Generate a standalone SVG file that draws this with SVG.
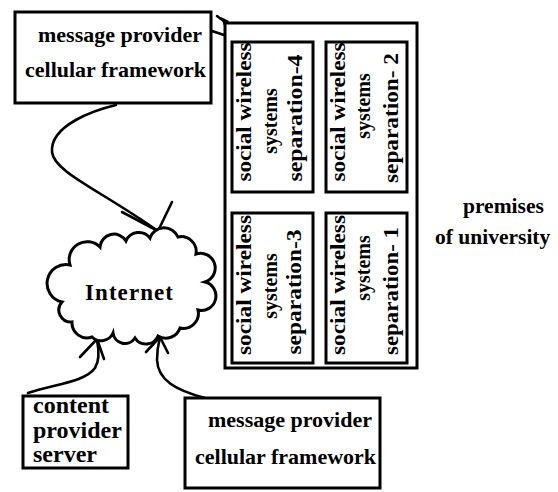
<svg xmlns="http://www.w3.org/2000/svg" width="558" height="492" viewBox="0 0 558 492">
<style>
.box{fill:#fff;stroke:#000;stroke-width:3}
.ln{fill:none;stroke:#000;stroke-width:2.6;stroke-linecap:round;stroke-linejoin:round}
.t{font-family:"Liberation Serif","Times New Roman",serif;font-weight:bold;fill:#000;font-size:22px}
.r{text-anchor:middle;font-size:22px}
.s{text-anchor:middle;font-size:20px}
</style>
<rect width="558" height="492" fill="#fff"/>
<g id="connectors">
  <path class="ln" d="M116,105 C95,110 50,125 52,152 C54,172 100,190 158,231"/>
  <polyline class="ln" points="122,212 158,231 172,202"/>
  <path class="ln" d="M28,393 C55,384 85,382 95,368 C100,360 99,350 97,340"/>
  <polyline class="ln" points="80,357 97,339 104,359"/>
  <path class="ln" d="M205,398 C175,390 158,380 157,360 C157,350 158,345 160,337"/>
  <polyline class="ln" points="146,352 160,337 168,353"/>
  <line class="ln" x1="212" y1="31" x2="245" y2="42"/>
  <line class="ln" x1="217" y1="16" x2="225" y2="22"/>
  <polygon points="221,17 229,21 224,26" fill="#000"/>
</g>
<g id="premises">
  <rect class="box" x="225" y="23" width="192" height="345"/>
  <text class="t" x="463" y="213" style="font-size:21.5px">premises</text>
  <text class="t" x="435" y="244" style="font-size:21.5px">of university</text>
</g>
<g id="sep4">
  <rect class="box" x="232" y="42" width="81" height="150"/>
  <text class="t r" transform="translate(251,112) rotate(-90)" textLength="139" lengthAdjust="spacingAndGlyphs">social wireless</text>
  <text class="t s" transform="translate(277,121) rotate(-90)">systems</text>
  <text class="t r" transform="translate(302,118) rotate(-90)" textLength="127" lengthAdjust="spacingAndGlyphs">separation-4</text>
</g>
<g id="sep2">
  <rect class="box" x="326" y="42" width="81" height="150"/>
  <text class="t r" transform="translate(345,112) rotate(-90)" textLength="139" lengthAdjust="spacingAndGlyphs">social wireless</text>
  <text class="t s" transform="translate(370,106) rotate(-90)">systems</text>
  <text class="t r" transform="translate(398,118) rotate(-90)" textLength="130" lengthAdjust="spacingAndGlyphs">separation- 2</text>
</g>
<g id="sep3">
  <rect class="box" x="232" y="213" width="81" height="150"/>
  <text class="t r" transform="translate(251,285) rotate(-90)" textLength="140" lengthAdjust="spacingAndGlyphs">social wireless</text>
  <text class="t s" transform="translate(277,286) rotate(-90)">systems</text>
  <text class="t r" transform="translate(301,292) rotate(-90)" textLength="125" lengthAdjust="spacingAndGlyphs">separation-3</text>
</g>
<g id="sep1">
  <rect class="box" x="326" y="213" width="81" height="150"/>
  <text class="t r" transform="translate(345,285) rotate(-90)" textLength="140" lengthAdjust="spacingAndGlyphs">social wireless</text>
  <text class="t s" transform="translate(370,268) rotate(-90)">systems</text>
  <text class="t r" transform="translate(398,291) rotate(-90)" textLength="128" lengthAdjust="spacingAndGlyphs">separation- 1</text>
</g>
<g id="msg-top">
  <rect class="box" x="15" y="12" width="196" height="91"/>
  <text class="t" x="38" y="42">message provider</text>
  <text class="t" x="25" y="77">cellular framework</text>
</g>
<g id="internet">
  <path fill="#fff" stroke="#000" stroke-width="3" d="M62,302 A16,16 0 0 1 70,265 A18,18 0 0 1 100,247 A14,14 0 0 1 126,241 A14,14 0 0 1 150,238 A15,15 0 0 1 178,237 A15,15 0 0 1 196,254 A14,14 0 0 1 205,282 A14,14 0 0 1 198,310 A15,15 0 0 1 180,328 A15,15 0 0 1 158,336 A13,13 0 0 1 135,338 A12,12 0 0 1 113,333 A13,13 0 0 1 92,337 A15,15 0 0 1 72,322 A12,12 0 0 1 62,302 Z"/>
  <text class="t" x="85" y="300" style="font-size:23px" textLength="88">Internet</text>
</g>
<g id="content-server">
  <rect class="box" x="23" y="396" width="105" height="72"/>
  <text class="t" x="33" y="413" style="font-size:24px">content</text>
  <text class="t" x="33" y="438" style="font-size:24px">provider</text>
  <text class="t" x="33" y="462" style="font-size:24px">server</text>
</g>
<g id="msg-bottom">
  <rect class="box" x="185" y="398" width="195" height="90"/>
  <text class="t" x="208" y="427">message provider</text>
  <text class="t" x="195" y="464">cellular framework</text>
</g>
</svg>
